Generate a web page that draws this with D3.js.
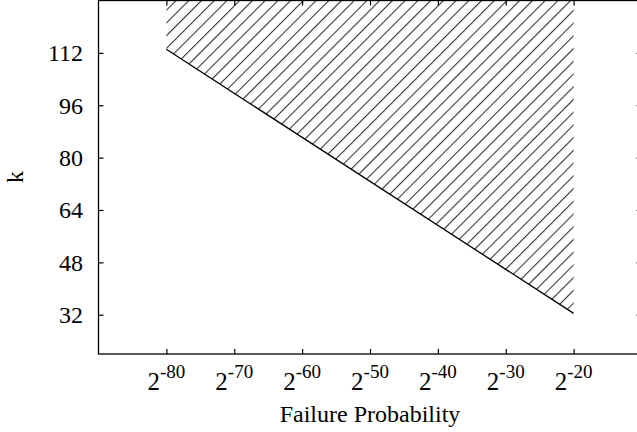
<!DOCTYPE html>
<html>
<head>
<meta charset="utf-8">
<script src="https://cdn.jsdelivr.net/npm/d3@7"></script>
<style>
  body { margin: 0; background: #fff; }
  svg text { font-family: "Liberation Serif", Tinos, "Times New Roman", serif; fill: #000; }
  .axis path { display: none; }
  .axis line { stroke: #000; stroke-width: 1.2; }
</style>
</head>
<body>
<div id="chart"></div>
<script>
// data
var xTicks = [-80, -70, -60, -50, -40, -30, -20];   // exponents of 2
var yTicks = [32, 48, 64, 80, 96, 112];
var boundaryExp = [-80, -20];
var boundaryK = [113.1, 32.4];
var xDomain = [-90, -10];
var yDomain = [20, 128];

var W = 637, H = 432;
var margin = {top: 0.5, right: -4.5, bottom: 78, left: 98.5};
var width = W - margin.left - margin.right;
var height = H - margin.top - margin.bottom;

var x = d3.scaleLinear().domain(xDomain).range([0, width]);
var y = d3.scaleLinear().domain(yDomain).range([height, 0]);

var svg = d3.select("#chart").append("svg")
  .attr("width", W)
  .attr("height", H)
  .style("display", "block");

var defs = svg.append("defs");
defs.append("clipPath").attr("id", "plotclip")
  .append("rect").attr("width", width).attr("height", height);

// hatch pattern, "/" lines
var pat = defs.append("pattern")
  .attr("id", "hatch")
  .attr("patternUnits", "userSpaceOnUse")
  .attr("width", 9)
  .attr("height", 9)
  .attr("patternTransform", "translate(0.5,0) rotate(45)");
pat.append("line")
  .attr("x1", 0.5).attr("y1", -1)
  .attr("x2", 0.5).attr("y2", 10)
  .attr("stroke", "#333")
  .attr("stroke-width", 1.15);

var g = svg.append("g")
  .attr("transform", "translate(" + margin.left + "," + margin.top + ")");

// region above the boundary, up to top of the plot
var pts = boundaryExp.map(function(e, i) { return [e, boundaryK[i]]; });
var region = [[boundaryExp[0], yDomain[1]]].concat(pts)
  .concat([[boundaryExp[boundaryExp.length - 1], yDomain[1]]]);

var line = d3.line().x(function(d){ return x(d[0]); }).y(function(d){ return y(d[1]); });

var plot = g.append("g").attr("clip-path", "url(#plotclip)");
plot.append("path")
  .datum(region)
  .attr("fill", "url(#hatch)")
  .attr("stroke", "none")
  .attr("d", line);

plot.append("path")
  .datum(pts)
  .attr("fill", "none")
  .attr("stroke", "#000")
  .attr("stroke-width", 1.3)
  .attr("d", line);

// axes: inward ticks on all four sides
g.append("g").attr("class", "axis")
  .attr("transform", "translate(0," + height + ")")
  .call(d3.axisBottom(x).tickValues(xTicks).tickSize(-5).tickFormat(""));
g.append("g").attr("class", "axis")
  .call(d3.axisTop(x).tickValues(xTicks).tickSize(-5).tickFormat(""));
g.append("g").attr("class", "axis")
  .call(d3.axisLeft(y).tickValues(yTicks).tickSize(-5).tickFormat(""));
g.append("g").attr("class", "axis")
  .attr("transform", "translate(" + width + ",0)")
  .call(d3.axisRight(y).tickValues(yTicks).tickSize(-5).tickFormat(""));

// border
g.append("rect")
  .attr("width", width).attr("height", height)
  .attr("fill", "none")
  .attr("stroke", "#000")
  .attr("stroke-width", 1.3);

// x tick labels as 2^e
var xl = g.selectAll(".xlab")
  .data(xTicks)
  .enter().append("text")
  .attr("class", "xlab")
  .attr("x", function(d){ return x(d); })
  .attr("y", 389)
  .attr("text-anchor", "middle");
xl.append("tspan").attr("font-size", 25).text("2");
xl.append("tspan").attr("font-size", 19).attr("dy", -11.5).text(function(d){ return d; });

// y tick labels
g.selectAll(".ylab")
  .data(yTicks)
  .enter().append("text")
  .attr("class", "ylab")
  .attr("x", 83 - margin.left)
  .attr("y", function(d){ return y(d); })
  .attr("dy", "0.35em")
  .attr("text-anchor", "end")
  .attr("font-size", 24)
  .text(function(d){ return d; });

// axis titles
svg.append("text")
  .attr("x", margin.left + x(-50))
  .attr("y", 422)
  .attr("text-anchor", "middle")
  .attr("font-size", 24)
  .text("Failure Probability");

svg.append("text")
  .attr("transform", "translate(23,177) rotate(-90)")
  .attr("text-anchor", "middle")
  .attr("font-size", 24)
  .text("k");
</script>
</body>
</html>
